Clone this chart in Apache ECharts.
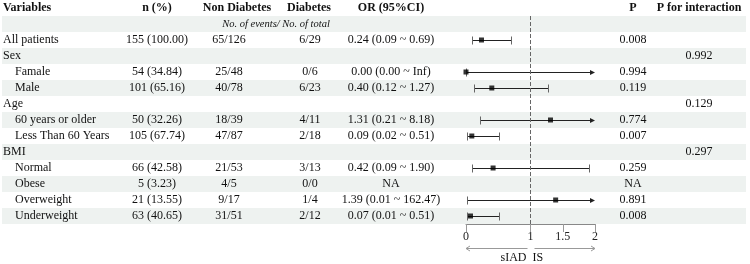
<!DOCTYPE html>
<html><head><meta charset="utf-8">
<script src="https://cdn.jsdelivr.net/npm/echarts@6/dist/echarts.min.js"></script>
<style>html,body{margin:0;padding:0;background:#fff}#c{width:750px;height:264px}</style>
</head><body><div id="c"></div>
<script>
// ---- data ----
var headers = ['Variables', 'n (%)', 'Non Diabetes', 'Diabetes', 'OR (95%CI)', 'P', 'P for interaction'];
var subHeader = 'No. of events/ No. of total';
var variables = ['', 'All patients', 'Sex', 'Famale', 'Male', 'Age', '60 years or older', 'Less Than 60 Years', 'BMI', 'Normal', 'Obese', 'Overweight', 'Underweight'];
var level = [0, 0, 0, 1, 1, 0, 1, 1, 0, 1, 1, 1, 1];
var nPct = ['', '155 (100.00)', '', '54 (34.84)', '101 (65.16)', '', '50 (32.26)', '105 (67.74)', '', '66 (42.58)', '5 (3.23)', '21 (13.55)', '63 (40.65)'];
var nonDiab = ['', '65/126', '', '25/48', '40/78', '', '18/39', '47/87', '', '21/53', '4/5', '9/17', '31/51'];
var diab = ['', '6/29', '', '0/6', '6/23', '', '4/11', '2/18', '', '3/13', '0/0', '1/4', '2/12'];
var orCI = ['', '0.24 (0.09 ~ 0.69)', '', '0.00 (0.00 ~ Inf)', '0.40 (0.12 ~ 1.27)', '', '1.31 (0.21 ~ 8.18)', '0.09 (0.02 ~ 0.51)', '', '0.42 (0.09 ~ 1.90)', 'NA', '1.39 (0.01 ~ 162.47)', '0.07 (0.01 ~ 0.51)'];
var orVal = [null, 0.24, null, 0.00, 0.40, null, 1.31, 0.09, null, 0.42, null, 1.39, 0.07];
var ciLow = [null, 0.09, null, 0.00, 0.12, null, 0.21, 0.02, null, 0.09, null, 0.01, 0.01];
var ciHigh = [null, 0.69, null, Infinity, 1.27, null, 8.18, 0.51, null, 1.90, null, 162.47, 0.51];
var pVal = ['', '0.008', '', '0.994', '0.119', '', '0.774', '0.007', '', '0.259', 'NA', '0.891', '0.008'];
var pInter = ['', '', '0.992', '', '', '0.129', '', '', '0.297', '', '', '', ''];
var tickValues = [0, 1, 1.5, 2];
var axisMin = 0, axisMax = 2;
var leftNote = 'sIAD', rightNote = 'IS';

// ---- layout/styles ----
var FONT = '"Liberation Serif", "DejaVu Serif", serif';
var FS = 12;
var shadeColor = '#eef2f0';
var colX = { vars: 3, indent: 15, n: 157, nd: 229, nh: 237, d: 310, dh: 309, or: 391, p: 633, pi: 699 };
var rowIdx = variables.map(function (_, i) { return String(i); });

function txt(s, x, y, align, opts) {
  opts = opts || {};
  return {
    type: 'text',
    style: {
      text: s, x: x, y: y, fill: '#111',
      font: (opts.italic ? 'italic ' : '') + (opts.bold ? 'bold ' : '') + (opts.size || FS) + 'px ' + FONT,
      align: align, verticalAlign: 'middle'
    }
  };
}
function px(v) { return Math.round(v) + 0.5; }

var chart = echarts.init(document.getElementById('c'), null, { renderer: 'canvas' });

var option = {
  animation: false,
  grid: { left: 466, width: 129, top: 16, height: 208 },
  xAxis: {
    type: 'value', min: axisMin, max: axisMax, interval: 0.5,
    axisLine: { show: true, lineStyle: { color: '#888', width: 1 } },
    axisTick: { show: true, customValues: tickValues, length: 8, lineStyle: { color: '#999' } },
    axisLabel: { customValues: tickValues, color: '#222', fontFamily: FONT, fontSize: FS, margin: 7,
      formatter: function (v) { return String(v); } },
    splitLine: { show: false }
  },
  yAxis: { type: 'category', data: rowIdx, inverse: true, show: false },
  series: [
    {
      type: 'custom', name: 'stripes', z: 0, silent: true, clip: false,
      data: rowIdx.map(function (_, i) { return [0, i]; }).filter(function (d) { return d[1] % 2 === 0; }),
      renderItem: function (params, api) {
        var c = api.coord([0, api.value(1)]);
        return { type: 'rect', shape: { x: 2, y: c[1] - 8, width: 744, height: 16 }, style: { fill: shadeColor } };
      }
    },
    {
      type: 'custom', name: 'table', z: 2, silent: true, clip: false,
      data: rowIdx.map(function (_, i) { return [0, i]; }),
      renderItem: function (params, api) {
        var i = api.value(1);
        var y = api.coord([0, i])[1];
        var ch = [];
        if (i === 0) {
          var hy = y - 16;
          ch.push(txt(headers[0], colX.vars, hy, 'left', { bold: true }));
          ch.push(txt(headers[1], colX.n, hy, 'center', { bold: true }));
          ch.push(txt(headers[2], colX.nh, hy, 'center', { bold: true }));
          ch.push(txt(headers[3], colX.dh, hy, 'center', { bold: true }));
          ch.push(txt(headers[4], colX.or, hy, 'center', { bold: true }));
          ch.push(txt(headers[5], colX.p, hy, 'center', { bold: true }));
          ch.push(txt(headers[6], colX.pi, hy, 'center', { bold: true }));
          ch.push(txt(subHeader, 276, y, 'center', { italic: true, size: 10.5 }));
          return { type: 'group', children: ch };
        }
        ch.push(txt(variables[i], level[i] ? colX.indent : colX.vars, y, 'left'));
        ch.push(txt(nPct[i], colX.n, y, 'center'));
        ch.push(txt(nonDiab[i], colX.nd, y, 'center'));
        ch.push(txt(diab[i], colX.d, y, 'center'));
        ch.push(txt(orCI[i], colX.or, y, 'center'));
        ch.push(txt(pVal[i], colX.p, y, 'center'));
        ch.push(txt(pInter[i], colX.pi, y, 'center'));
        if (i === variables.length - 1) {
          var x0 = api.coord([axisMin, i])[0], x1 = api.coord([1, i])[0], x2 = api.coord([axisMax, i])[0];
          var ay = px(y + 32), ty = y + 42;
          var ls = { stroke: '#999', lineWidth: 1 };
          ch.push({ type: 'line', shape: { x1: x0, y1: ay, x2: x1 - 3, y2: ay }, style: ls });
          ch.push({ type: 'polyline', shape: { points: [[x0 + 4, ay - 2.5], [x0, ay], [x0 + 4, ay + 2.5]] }, style: { stroke: '#999', lineWidth: 1, fill: null } });
          ch.push({ type: 'line', shape: { x1: x1 + 4, y1: ay, x2: x2, y2: ay }, style: ls });
          ch.push({ type: 'polyline', shape: { points: [[x2 - 4, ay - 2.5], [x2, ay], [x2 - 4, ay + 2.5]] }, style: { stroke: '#999', lineWidth: 1, fill: null } });
          ch.push(txt(leftNote, x1 - 4, ty, 'right'));
          ch.push(txt(rightNote, x1 + 2, ty, 'left'));
        }
        return { type: 'group', children: ch };
      }
    },
    {
      type: 'custom', name: 'ci', z: 3, silent: true, clip: false,
      data: rowIdx.map(function (_, i) { return [ciLow[i], i]; }).filter(function (d) { return d[0] !== null; }),
      renderItem: function (params, api) {
        var i = api.value(1);
        var lo = ciLow[i], hi = ciHigh[i];
        var pl = api.coord([lo, i]);
        var over = hi > axisMax;
        var ph = api.coord([over ? axisMax : hi, i]);
        var y = px(pl[1]);
        var xl = px(pl[0]), xh = px(ph[0]);
        var ch = [];
        ch.push({ type: 'line', shape: { x1: xl, y1: y, x2: over ? ph[0] - 3 : xh, y2: y }, style: { stroke: '#222', lineWidth: 1 } });
        ch.push({ type: 'line', shape: { x1: xl, y1: y - 4, x2: xl, y2: y + 4 }, style: { stroke: '#666', lineWidth: 1 } });
        if (over) {
          ch.push({ type: 'polygon', shape: { points: [[ph[0], y], [ph[0] - 5, y - 2.5], [ph[0] - 5, y + 2.5]] }, style: { fill: '#222' } });
        } else {
          ch.push({ type: 'line', shape: { x1: xh, y1: y - 4, x2: xh, y2: y + 4 }, style: { stroke: '#666', lineWidth: 1 } });
        }
        return { type: 'group', children: ch };
      }
    },
    {
      type: 'scatter', name: 'OR', z: 4, silent: true,
      symbol: 'rect', symbolSize: 5,
      itemStyle: { color: '#000' },
      data: rowIdx.map(function (_, i) { return [orVal[i], i]; }).filter(function (d) { return d[0] !== null; }),
      markLine: {
        silent: true, symbol: 'none', label: { show: false },
        lineStyle: { type: 'dashed', color: '#666', width: 1 },
        data: [{ xAxis: 1 }]
      }
    }
  ]
};
chart.setOption(option);
</script>
</body></html>
